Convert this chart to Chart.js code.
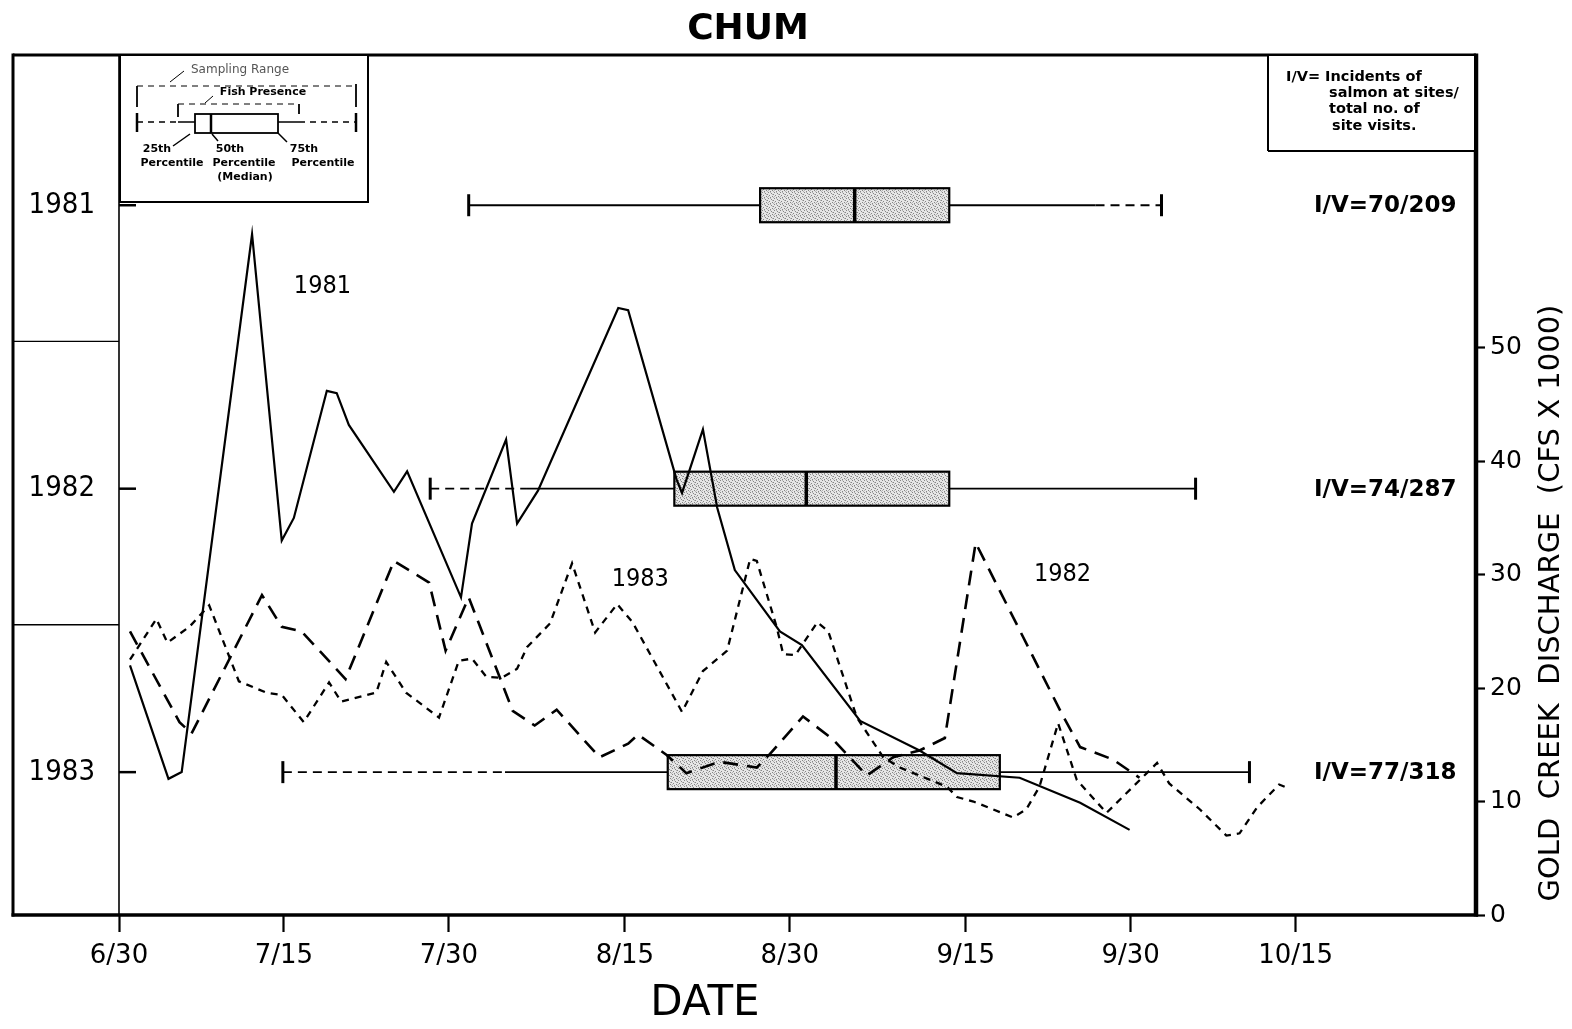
<!DOCTYPE html>
<html>
<head>
<meta charset="utf-8">
<title>CHUM</title>
<script src="https://cdn.jsdelivr.net/npm/chart.js@4.4.1/dist/chart.umd.min.js"></script>
<style>
  html, body { margin: 0; padding: 0; background: #fff; }
  #wrap { width: 1572px; height: 1029px; position: relative; }
</style>
</head>
<body>
<div id="wrap"><canvas id="chumChart"></canvas></div>
<script>
// Días contados desde el 6/30
const tickDays = [0, 15, 30, 46, 61, 77, 92, 107];
const tickLabels = ['6/30', '7/15', '7/30', '8/15', '8/30', '9/15', '9/30', '10/15'];
const flowTicks = [0, 10, 20, 30, 40, 50];

// Caudal de Gold Creek (cfs x 1000)
const days1981 = [1, 4.5, 5.7, 12.1, 14.8, 15.9, 18.9, 19.8, 20.9, 25, 26.2, 31.1, 32.1, 35.2, 36.2, 38.1,
  45.4, 46.3, 50.7, 51.2, 53.1, 54.4, 56, 60.1, 62.1, 67.4, 72.8, 76.2, 81.9, 87.4, 91.9];
const flow1981 = [22, 12, 12.6, 60, 33, 35, 46.2, 46, 43.2, 37.3, 39.1, 28, 34.5, 41.9, 34.5, 37.4,
  53.5, 53.3, 38.4, 37.2, 42.8, 35.9, 30.4, 25, 23.8, 17.1, 14.5, 12.5, 12.1, 9.9, 7.5];

const days1982 = [1, 5.5, 6.6, 13, 14.8, 16.6, 20.6, 25, 28.2, 29.7, 31.8, 35.8, 37.8, 39.8, 43.7, 46.3,
  47.2, 49.8, 51.6, 54.6, 58, 59.2, 62.2, 64.9, 68, 70.4, 72.8, 75.1, 77.9, 85.7, 87.4, 90.4, 92.8];
const flow1982 = [25, 17, 16, 28.2, 25.4, 25, 20.8, 31.2, 29.3, 23.3, 28, 18, 16.7, 18.1, 13.9, 15.1,
  15.9, 14.1, 12.5, 13.5, 13, 14.2, 17.5, 15.5, 12.3, 13.9, 14.5, 15.6, 32.8, 17.8, 14.8, 13.7, 12.1];

const days1983 = [1, 3.4, 4.4, 6.4, 8.2, 10.9, 13.4, 14.8, 16.8, 19.1, 20.2, 23.4, 24.3, 26.1, 29.1, 30.9,
  32.1, 33.4, 34.8, 36.2, 37.1, 39.2, 41.2, 43.3, 45.3, 46.7, 51.2, 53.1, 55.3, 57.4, 58, 59.8, 60.4,
  61.5, 63.5, 64.5, 67.1, 69.5, 71, 75.3, 76.2, 77.7, 81.3, 82.5, 83.7, 85.4, 87.1, 89.8, 92.2, 94.4,
  95.5, 98.3, 100.7, 101.9, 103.5, 105.5, 106];
const flow1983 = [22.5, 26.1, 24, 25.4, 27.3, 20.6, 19.6, 19.4, 17, 20.5, 18.8, 19.6, 22.3, 19.6, 17.4, 22.4,
  22.6, 21, 20.9, 21.7, 23.6, 25.7, 31, 24.9, 27.4, 25.8, 17.9, 21.5, 23.3, 31.4, 31.2, 25.4, 23,
  22.9, 25.8, 25, 17.4, 13.9, 13, 11.3, 10.4, 10, 8.6, 9.3, 11.3, 16.9, 11.9, 9, 11.3, 13.4,
  11.6, 9.3, 7, 7.2, 9.5, 11.5, 11.3];

// Diagramas de caja por año (días desde 6/30)
const boxYears = [1981, 1982, 1983];
const samplingStart = [31.8, 28.3, 14.9];
const presenceStart = [31.8, 37.1, 35.1];
const q25 = [58.3, 50.5, 49.9];
const q50 = [66.9, 62.5, 65.2];
const q75 = [75.5, 75.5, 80.1];
const presenceEnd = [88.8, 97.9, 102.8];
const samplingEnd = [94.8, 97.9, 102.8];
const ivLabels = ['I/V=70/209', 'I/V=74/287', 'I/V=77/318'];

const FONT = '"DejaVu Sans", sans-serif';
const FONT_C = '"DejaVu Sans Condensed", "DejaVu Sans", sans-serif';

// Etiquetas de las curvas (posición en unidades de datos)
const curveNotes = [
  { text: '1981', day: 18.5, flow: 55.4 },
  { text: '1983', day: 47.4, flow: 29.6 },
  { text: '1982', day: 85.8, flow: 30.0 }
];

function seg(ctx, x1, y1, x2, y2) {
  ctx.beginPath();
  ctx.moveTo(x1, y1);
  ctx.lineTo(x2, y2);
  ctx.stroke();
}

function text(ctx, str, x, y, font, align) {
  ctx.font = font;
  ctx.textAlign = align || 'center';
  ctx.textBaseline = 'middle';
  ctx.fillText(str, x, y);
}

let stipple = null;
function getStipple(ctx) {
  if (stipple) return stipple;
  const c = document.createElement('canvas');
  c.width = 6; c.height = 6;
  const g = c.getContext('2d');
  g.fillStyle = '#e6e6e6'; g.fillRect(0, 0, 6, 6);
  g.fillStyle = '#858585';
  [[0, 0], [3, 1], [1, 3], [4, 4], [2, 5], [5, 2]].forEach(p => g.fillRect(p[0], p[1], 1, 1));
  g.fillStyle = '#b4b4b4';
  [[2, 0], [5, 5], [0, 4], [4, 2]].forEach(p => g.fillRect(p[0], p[1], 1, 1));
  stipple = ctx.createPattern(c, 'repeat');
  return stipple;
}

const boxPlugin = {
  id: 'boxPlots',
  beforeDatasetsDraw(chart) {
    const { ctx, scales: { x, yl } } = chart;
    const px = v => x.getPixelForValue(v);
    const half = 17;
    ctx.save();
    ctx.strokeStyle = '#000';
    boxYears.forEach((yr, i) => {
      const py = yl.getPixelForValue(yr);
      // rango de muestreo (punteado)
      ctx.lineWidth = 1.8;
      ctx.setLineDash([9, 6]);
      if (presenceStart[i] > samplingStart[i]) seg(ctx, px(samplingStart[i]), py, px(presenceStart[i]), py);
      if (samplingEnd[i] > presenceEnd[i]) seg(ctx, px(presenceEnd[i]), py, px(samplingEnd[i]), py);
      // presencia de peces (continua)
      ctx.setLineDash([]);
      seg(ctx, px(presenceStart[i]), py, px(q25[i]), py);
      seg(ctx, px(q75[i]), py, px(presenceEnd[i]), py);
      // topes
      ctx.lineWidth = 3;
      seg(ctx, px(samplingStart[i]), py - 11, px(samplingStart[i]), py + 11);
      seg(ctx, px(samplingEnd[i]), py - 11, px(samplingEnd[i]), py + 11);
      // caja
      ctx.fillStyle = getStipple(ctx);
      ctx.fillRect(px(q25[i]), py - half, px(q75[i]) - px(q25[i]), half * 2);
      ctx.lineWidth = 2.2;
      ctx.strokeRect(px(q25[i]), py - half, px(q75[i]) - px(q25[i]), half * 2);
      ctx.lineWidth = 3.5;
      seg(ctx, px(q50[i]), py - half, px(q50[i]), py + half);
    });
    ctx.restore();
  },
  afterDraw(chart) {
    const { ctx, chartArea: a, scales: { x, y, yl } } = chart;
    ctx.save();
    ctx.strokeStyle = '#000';
    ctx.fillStyle = '#000';

    // marco
    const L = 13;
    ctx.lineWidth = 3;
    seg(ctx, L, a.top, a.right, a.top);
    seg(ctx, L, a.top - 1.5, L, a.bottom + 1.5);
    ctx.lineWidth = 3.5;
    seg(ctx, L - 1.5, a.bottom, a.right + 2, a.bottom);
    ctx.lineWidth = 4.5;
    seg(ctx, a.right, a.top - 1.5, a.right, a.bottom + 1.5);
    ctx.lineWidth = 1.6;
    seg(ctx, a.left, a.top, a.left, a.bottom);

    // separadores de la columna de años
    ctx.lineWidth = 1.3;
    [1981.48, 1982.48].forEach(v => {
      const py = yl.getPixelForValue(v);
      seg(ctx, L, py, a.left, py);
    });
    // marcas de los años hacia dentro
    ctx.lineWidth = 2.5;
    boxYears.forEach(yr => {
      const py = yl.getPixelForValue(yr);
      seg(ctx, a.left, py, a.left + 17, py);
    });

    // etiquetas I/V
    boxYears.forEach((yr, i) => {
      text(ctx, ivLabels[i], 1314, yl.getPixelForValue(yr) + 1, 'bold 23px ' + FONT, 'left');
    });

    // etiquetas de las curvas
    curveNotes.forEach(n => {
      text(ctx, n.text, x.getPixelForValue(n.day), y.getPixelForValue(n.flow), '25px ' + FONT_C);
    });

    // título y rótulos de ejes
    text(ctx, 'CHUM', 748, 30, 'bold 36px ' + FONT);
    text(ctx, 'DATE', 705, 1004, '42px ' + FONT);
    ctx.save();
    ctx.translate(1551, 603);
    ctx.rotate(-Math.PI / 2);
    text(ctx, 'GOLD  CREEK  DISCHARGE  (CFS X 1000)', 0, 0, '29px ' + FONT);
    ctx.restore();

    // leyenda de diagrama de caja (arriba a la izquierda)
    ctx.fillStyle = '#fff';
    ctx.fillRect(a.left + 1, a.top + 1, 248, 146);
    ctx.fillStyle = '#000';
    ctx.lineWidth = 2;
    ctx.strokeRect(a.left + 1, a.top, 248, 147);
    ctx.fillStyle = '#555';
    text(ctx, 'Sampling Range', 240, 70, '12px ' + FONT);
    ctx.fillStyle = '#000';
    ctx.lineWidth = 1;
    seg(ctx, 170, 82, 184, 71);
    ctx.setLineDash([6, 5]);
    seg(ctx, 137, 86, 356, 86);
    seg(ctx, 178, 104, 299, 104);
    ctx.setLineDash([]);
    ctx.lineWidth = 1.8;
    seg(ctx, 137, 86, 137, 107);
    seg(ctx, 356, 84, 356, 107);
    seg(ctx, 178, 104, 178, 117);
    seg(ctx, 299, 104, 299, 114);
    ctx.lineWidth = 1;
    seg(ctx, 205, 103, 213, 96);
    text(ctx, 'Fish Presence', 263, 92, 'bold 11px ' + FONT);
    // mini diagrama
    ctx.lineWidth = 1.5;
    ctx.setLineDash([6, 5]);
    seg(ctx, 137, 122, 178, 122);
    seg(ctx, 299, 122, 356, 122);
    ctx.setLineDash([]);
    seg(ctx, 178, 122, 195, 122);
    seg(ctx, 278, 122, 299, 122);
    ctx.lineWidth = 2.5;
    seg(ctx, 137, 113, 137, 132);
    seg(ctx, 356, 113, 356, 132);
    ctx.lineWidth = 1.8;
    ctx.strokeRect(195, 114, 83, 19);
    ctx.lineWidth = 2.5;
    seg(ctx, 211, 114, 211, 133);
    ctx.lineWidth = 1.5;
    seg(ctx, 173, 146, 190, 134);
    seg(ctx, 212, 134, 218, 141);
    seg(ctx, 278, 133, 287, 142);
    const lf = 'bold 11px ' + FONT;
    text(ctx, '25th', 157, 149, lf);
    text(ctx, 'Percentile', 172, 163, lf);
    text(ctx, '50th', 230, 149, lf);
    text(ctx, 'Percentile', 244, 163, lf);
    text(ctx, '(Median)', 245, 177, lf);
    text(ctx, '75th', 304, 149, lf);
    text(ctx, 'Percentile', 323, 163, lf);

    // recuadro I/V (arriba a la derecha)
    ctx.fillStyle = '#fff';
    ctx.fillRect(1268, a.top + 1, a.right - 1268 - 2, 96);
    ctx.fillStyle = '#000';
    ctx.lineWidth = 2;
    seg(ctx, 1268, a.top, 1268, 151);
    seg(ctx, 1268, 151, a.right, 151);
    const nf = 'bold 14.5px ' + FONT;
    text(ctx, 'I/V= Incidents of', 1286, 77, nf, 'left');
    text(ctx, 'salmon at sites/', 1329, 93, nf, 'left');
    text(ctx, 'total no. of', 1329, 109, nf, 'left');
    text(ctx, 'site visits.', 1332, 126, nf, 'left');
    ctx.restore();
  }
};

const toPoints = (days, flows) => days.map((d, i) => ({ x: d, y: flows[i] }));

new Chart(document.getElementById('chumChart'), {
  type: 'line',
  data: {
    datasets: [
      {
        label: '1981',
        data: toPoints(days1981, flow1981),
        borderColor: '#000',
        borderWidth: 2.2,
        pointRadius: 0,
        tension: 0,
        yAxisID: 'y'
      },
      {
        label: '1982',
        data: toPoints(days1982, flow1982),
        borderColor: '#000',
        borderWidth: 2.6,
        borderDash: [15, 9],
        pointRadius: 0,
        tension: 0,
        yAxisID: 'y'
      },
      {
        label: '1983',
        data: toPoints(days1983, flow1983),
        borderColor: '#000',
        borderWidth: 2.3,
        borderDash: [7, 6],
        pointRadius: 0,
        tension: 0,
        yAxisID: 'y'
      }
    ]
  },
  options: {
    responsive: true,
    maintainAspectRatio: false,
    animation: false,
    layout: { padding: { left: 13, top: 55, right: 0, bottom: 0 } },
    plugins: {
      legend: { display: false },
      tooltip: { enabled: false },
      title: { display: false }
    },
    scales: {
      x: {
        type: 'linear',
        min: 0,
        max: 123.4,
        border: { display: false },
        grid: { drawOnChartArea: false, drawTicks: true, tickLength: 17, tickWidth: 2.2, tickColor: '#000' },
        afterBuildTicks: s => { s.ticks = tickDays.map(v => ({ value: v })); },
        afterFit: s => { s.height = 114; },
        ticks: {
          autoSkip: false,
          maxRotation: 0,
          padding: 9,
          color: '#000',
          font: { family: FONT, size: 26 },
          callback: v => tickLabels[tickDays.indexOf(v)] || ''
        }
      },
      y: {
        type: 'linear',
        position: 'right',
        min: 0,
        max: 75.8,
        border: { display: false },
        grid: { drawOnChartArea: false, drawTicks: true, tickLength: 9, tickWidth: 2.2, tickColor: '#000' },
        afterBuildTicks: s => { s.ticks = flowTicks.map(v => ({ value: v })); },
        afterFit: s => { s.width = 96; },
        ticks: {
          padding: 5,
          color: '#000',
          font: { family: FONT, size: 25 },
          callback: v => String(v)
        }
      },
      yl: {
        type: 'linear',
        position: 'left',
        reverse: true,
        min: 1980.47,
        max: 1983.504,
        border: { display: false },
        grid: { display: false, drawTicks: false },
        afterBuildTicks: s => { s.ticks = boxYears.map(v => ({ value: v })); },
        afterFit: s => { s.width = 106; },
        ticks: {
          padding: 24,
          color: '#000',
          font: { family: FONT_C, size: 29 },
          callback: v => String(v)
        }
      }
    }
  },
  plugins: [boxPlugin]
});
</script>
</body>
</html>
